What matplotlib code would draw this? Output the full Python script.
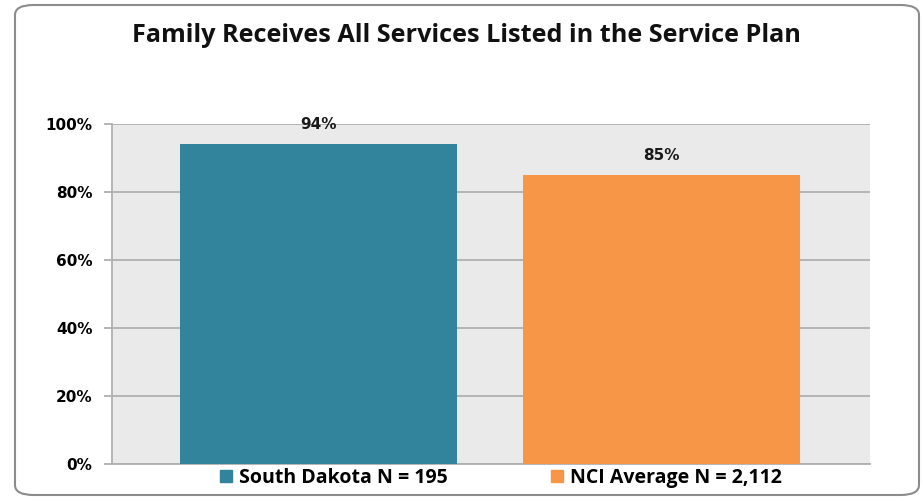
import matplotlib
matplotlib.use("Agg")
import matplotlib.pyplot as plt
from matplotlib.patches import FancyBboxPatch, Rectangle

categories = ["South Dakota N = 195", "NCI Average N = 2,112"]
values = [94, 85]
labels = ["94%", "85%"]
colors = ["#31849B", "#F79646"]
yticks = [0, 20, 40, 60, 80, 100]
ytick_labels = ["0%", "20%", "40%", "60%", "80%", "100%"]
title = "Family Receives All Services Listed in the Service Plan"

W, H = 923, 501
fig = plt.figure(figsize=(W / 100, H / 100), dpi=100)

# rounded border
border = FancyBboxPatch((15 / W, 6 / H), (919 - 15) / W, (496 - 6) / H,
                        boxstyle="round,pad=0,rounding_size=0.02",
                        transform=fig.transFigure, fill=False,
                        edgecolor="#8C8C8C", linewidth=1.5)
fig.patches.append(border)

left, right, top, bottom = 112, 870, 124, 464
ax = fig.add_axes([left / W, 1 - bottom / H, (right - left) / W, (bottom - top) / H])
ax.set_facecolor("#EAEAEA")

x = [0, 1]
ax.bar(x, values, width=0.805, color=colors, zorder=3)
ax.set_xlim(-0.602, 1.608)
ax.set_ylim(0, 100)
ax.set_yticks(yticks)
ax.set_yticklabels(ytick_labels, fontweight="bold", fontsize=11, family="DejaVu Sans")
ax.set_xticks([])
ax.yaxis.grid(True, color="#B0B0B0", linewidth=1.3, zorder=0)
for s in ["top", "right"]:
    ax.spines[s].set_visible(False)
for s in ["left", "bottom"]:
    ax.spines[s].set_color("#B0B0B0")
    ax.spines[s].set_linewidth(1.3)
ax.tick_params(axis="y", length=6, color="#B0B0B0", width=1.3, pad=8)

for xi, v, lab in zip(x, values, labels):
    ax.text(xi, v + 3.6, lab, ha="center", va="bottom", fontweight="bold",
            fontsize=11, family="DejaVu Sans", color="#1A1A1A")

fig.text(466 / W, 1 - 35 / H, title, ha="center", va="center",
         fontsize=18.2, fontweight="bold", family="Open Sans", color="#111111")

handles = [Rectangle((0, 0), 1, 1, color=c) for c in colors]
leg = fig.legend(handles, categories, loc="center", bbox_to_anchor=(501 / W, 1 - 478 / H),
                 ncol=2, frameon=False, prop={"family": "Open Sans", "weight": "bold", "size": 14},
                 handlelength=0.6, handleheight=0.6, handletextpad=0.36, columnspacing=5.35,
                 borderpad=0, borderaxespad=0)

fig.savefig("out.png", dpi=100)
